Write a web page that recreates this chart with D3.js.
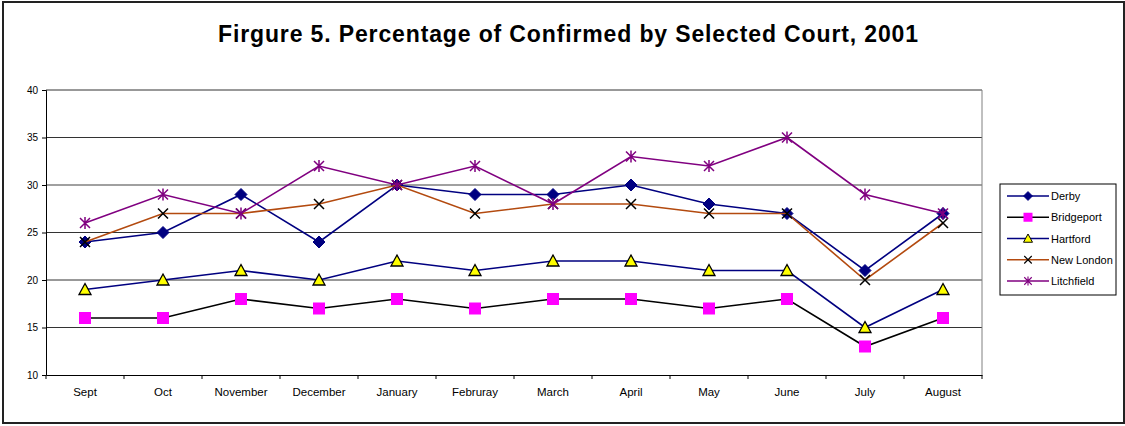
<!DOCTYPE html>
<html><head><meta charset="utf-8">
<script src="https://cdn.jsdelivr.net/npm/d3@7"></script>
<style>body{margin:0;background:#fff;}svg{display:block;font-family:"Liberation Sans",Arial,sans-serif;}</style>
</head><body><svg id="c" width="1125" height="426"></svg>
<script>
const months = ["Sept","Oct","November","December","January","Februray","March","April","May","June","July","August"];
const derby = [24,25,29,24,30,29,29,30,28,27,21,27];
const bridgeport = [16,16,18,17,18,17,18,18,17,18,13,16];
const hartford = [19,20,21,20,22,21,22,22,21,21,15,19];
const newLondon = [24,27,27,28,30,27,28,28,27,27,20,26];
const litchfield = [26,29,27,32,30,32,28,33,32,35,29,27];
const yTicks = [10,15,20,25,30,35,40];
const title = "Firgure 5. Percentage of Confirmed by Selected Court, 2001";

const series = [
  {name:"Derby", values:derby, line:"#000080", marker:"diamond", fill:"#000080", stroke:"#000080"},
  {name:"Bridgeport", values:bridgeport, line:"#000000", marker:"square", fill:"#FF00FF", stroke:"#FF00FF"},
  {name:"Hartford", values:hartford, line:"#000080", marker:"triangle", fill:"#FFFF00", stroke:"#000000"},
  {name:"New London", values:newLondon, line:"#B34A0F", marker:"x", fill:"none", stroke:"#000000"},
  {name:"Litchfield", values:litchfield, line:"#800080", marker:"star", fill:"none", stroke:"#800080"}
];

const svg = d3.select("#c");
svg.append("rect").attr("x",3).attr("y",2).attr("width",1121).attr("height",421)
  .attr("fill","#fff").attr("stroke","#222").attr("stroke-width",2);

svg.append("text").attr("x",568).attr("y",42).attr("text-anchor","middle")
  .attr("font-size",23).attr("font-weight","bold")
  .attr("textLength",700).attr("lengthAdjust","spacing").text(title);

const L=46, R=982, T=90, B=375;
const x = d3.scaleBand().domain(months).range([L,R]);
const y = d3.scaleLinear().domain([10,40]).range([B,T]);

// gridlines
svg.append("g").selectAll("line").data(yTicks.filter(d=>d>10)).join("line")
  .attr("x1",L).attr("x2",R).attr("y1",d=>y(d)).attr("y2",d=>y(d))
  .attr("stroke",d=>d===30?"#808080":"#333").attr("stroke-width",d=>d===30?1.5:1);
svg.append("line").attr("x1",R).attr("x2",R).attr("y1",T).attr("y2",B).attr("stroke","#808080");

const ya = svg.append("g").attr("transform",`translate(${L},0)`)
  .call(d3.axisLeft(y).tickValues(yTicks).tickSize(4).tickPadding(4).tickFormat(d3.format("d")));
ya.selectAll("text").attr("font-size",10).attr("fill","#000").attr("font-family","Liberation Sans, Arial");
ya.select(".domain").attr("stroke","#000");

const xa = svg.append("g").attr("transform",`translate(0,${B})`)
  .call(d3.axisBottom(x).tickSize(0).tickPadding(13));
xa.selectAll("text").attr("font-size",11.5).attr("fill","#000").attr("font-family","Liberation Sans, Arial");
xa.select(".domain").attr("stroke","#000");
// tick marks at band boundaries
svg.append("g").selectAll("line").data(d3.range(months.length+1)).join("line")
  .attr("x1",i=>L+i*x.step()).attr("x2",i=>L+i*x.step()).attr("y1",B).attr("y2",B+4).attr("stroke","#000");

const cx = m => x(m)+x.bandwidth()/2;
const line = d3.line().x((d,i)=>cx(months[i])).y(d=>y(d));

function drawMarker(g, type, fill, stroke){
  if(type==="diamond"){
    g.append("path").attr("d","M0,-6L6,0L0,6L-6,0Z").attr("fill",fill).attr("stroke",stroke);
  } else if(type==="square"){
    g.append("rect").attr("x",-6).attr("y",-6).attr("width",12).attr("height",12).attr("fill",fill);
  } else if(type==="triangle"){
    g.append("path").attr("d","M0,-6L6,5L-6,5Z").attr("fill",fill).attr("stroke",stroke).attr("stroke-width",1.3);
  } else if(type==="x"){
    g.append("path").attr("d","M-5,-5L5,5M-5,5L5,-5").attr("stroke",stroke).attr("stroke-width",1.5);
  } else if(type==="star"){
    g.append("path").attr("d","M-5,-5L5,5M-5,5L5,-5M0,-6L0,6").attr("stroke",stroke).attr("stroke-width",1.5);
  }
}

series.forEach(s=>{
  svg.append("path").datum(s.values).attr("d",line).attr("fill","none")
    .attr("stroke",s.line).attr("stroke-width",1.6);
  s.values.forEach((v,i)=>{
    const g = svg.append("g").attr("transform",`translate(${cx(months[i])},${y(v)})`);
    drawMarker(g,s.marker,s.fill,s.stroke);
  });
});

// legend
const lg = svg.append("g");
lg.append("rect").attr("x",1000).attr("y",184).attr("width",116).attr("height",111)
  .attr("fill","#fff").attr("stroke","#000");
const ly = d3.scalePoint().domain(series.map(s=>s.name)).range([196,281]);
series.forEach(s=>{
  const yy = ly(s.name);
  lg.append("line").attr("x1",1007).attr("x2",1049).attr("y1",yy).attr("y2",yy).attr("stroke",s.line).attr("stroke-width",1.6);
  const g = lg.append("g").attr("transform",`translate(1028,${yy}) scale(0.75)`);
  drawMarker(g,s.marker,s.fill,s.stroke);
  lg.append("text").attr("x",1051).attr("y",yy+4).attr("font-size",11).text(s.name);
});
</script></body></html>
